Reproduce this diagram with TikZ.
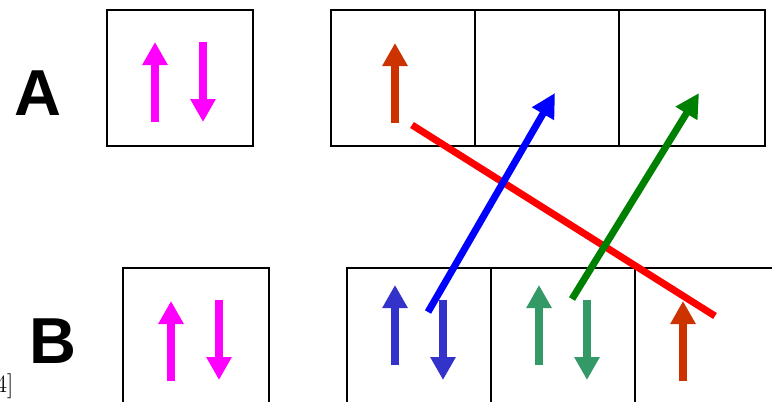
\documentclass[tikz,border=0pt]{standalone}
\usepackage{fontspec}
\newfontfamily\labelfont{Liberation Sans}
\usetikzlibrary{positioning}
\usetikzlibrary{calc}
\usetikzlibrary{arrows.meta}
\definecolor{spinmagenta}{HTML}{FF00FF}
\definecolor{spinbrown}{HTML}{CC3300}
\definecolor{spinblue}{HTML}{3333CC}
\definecolor{spingreen}{HTML}{339966}
\definecolor{moveblue}{HTML}{0000FF}
\definecolor{movegreen}{HTML}{008000}
\definecolor{movered}{HTML}{FF0000}

\begin{document}
\begin{tikzpicture}
			[
				x = 1pt, y = -1pt,
				orbital/.style = {draw, rectangle, line width = 1.5pt, minimum width = 144pt, minimum height = 136pt, outer sep = 0pt, inner sep = 0pt},
				biglabel/.style = {font = \labelfont\bfseries\fontsize{65}{65}\selectfont},
				spin/.style = {line width = 8pt, -{Triangle[length = 23pt, width = 24pt]}},
				move/.style = {line width = 7pt, -{Triangle[length = 24pt, width = 24pt]}}
			]
			\useasboundingbox (0,0) rectangle (772,402);
			%
			\node (labelA) [biglabel] at (38,93) {A};
			\node (labelB) [biglabel] at (53,341) {B};
			\node (cite) [anchor = east, font = \fontsize{25}{25}\selectfont] at (17,386) {[4]};
			%
			\node (topleft) [orbital, minimum width = 146pt] at (180,78) {};
			\node (topone) [orbital] at (403,78) {};
			\node (toptwo) [orbital, right = 0pt of topone] {};
			\node (topthree) [orbital, right = 0pt of toptwo, minimum width = 146pt] {};
			%
			\node (botleft) [orbital, minimum width = 146pt] at (196,336) {};
			\node (botone) [orbital] at (419,336) {};
			\node (bottwo) [orbital, right = 0pt of botone] {};
			\node (botthree) [orbital, right = 0pt of bottwo] {};
			%
			\draw [spin, spinmagenta] ($(topleft)+(-25,44)$) -- ($(topleft)+(-25,-36)$);
			\draw [spin, spinmagenta] ($(topleft)+(23,-36)$) -- ($(topleft)+(23,44)$);
			\draw [spin, spinbrown] ($(topone)+(-8,45)$) -- ($(topone)+(-8,-35)$);
			%
			\draw [spin, spinmagenta] ($(botleft)+(-25,45)$) -- ($(botleft)+(-25,-35)$);
			\draw [spin, spinmagenta] ($(botleft)+(23,-36)$) -- ($(botleft)+(23,44)$);
			\draw [spin, spinblue] ($(botone)+(-24,29)$) -- ($(botone)+(-24,-51)$);
			\draw [spin, spinblue] ($(botone)+(24,-36)$) -- ($(botone)+(24,44)$);
			\draw [spin, spingreen] ($(bottwo)+(-24,29)$) -- ($(bottwo)+(-24,-51)$);
			\draw [spin, spingreen] ($(bottwo)+(24,-36)$) -- ($(bottwo)+(24,44)$);
			\draw [spin, spinbrown] ($(botthree)+(-24,45)$) -- ($(botthree)+(-24,-35)$);
			%
			\coordinate (redstart) at (412,125);
			\coordinate (redend) at (715,316);
			\coordinate (bluestart) at (428,312);
			\coordinate (blueend) at (555,93);
			\coordinate (greenstart) at (572,299);
			\coordinate (greenend) at (699,93);
			%
			\draw [line width = 7pt, movered] (redstart) -- (redend);
			\draw [move, moveblue] (bluestart) -- (blueend);
			\draw [move, movegreen] (greenstart) -- (greenend);
			%
		\end{tikzpicture}
\end{document}
